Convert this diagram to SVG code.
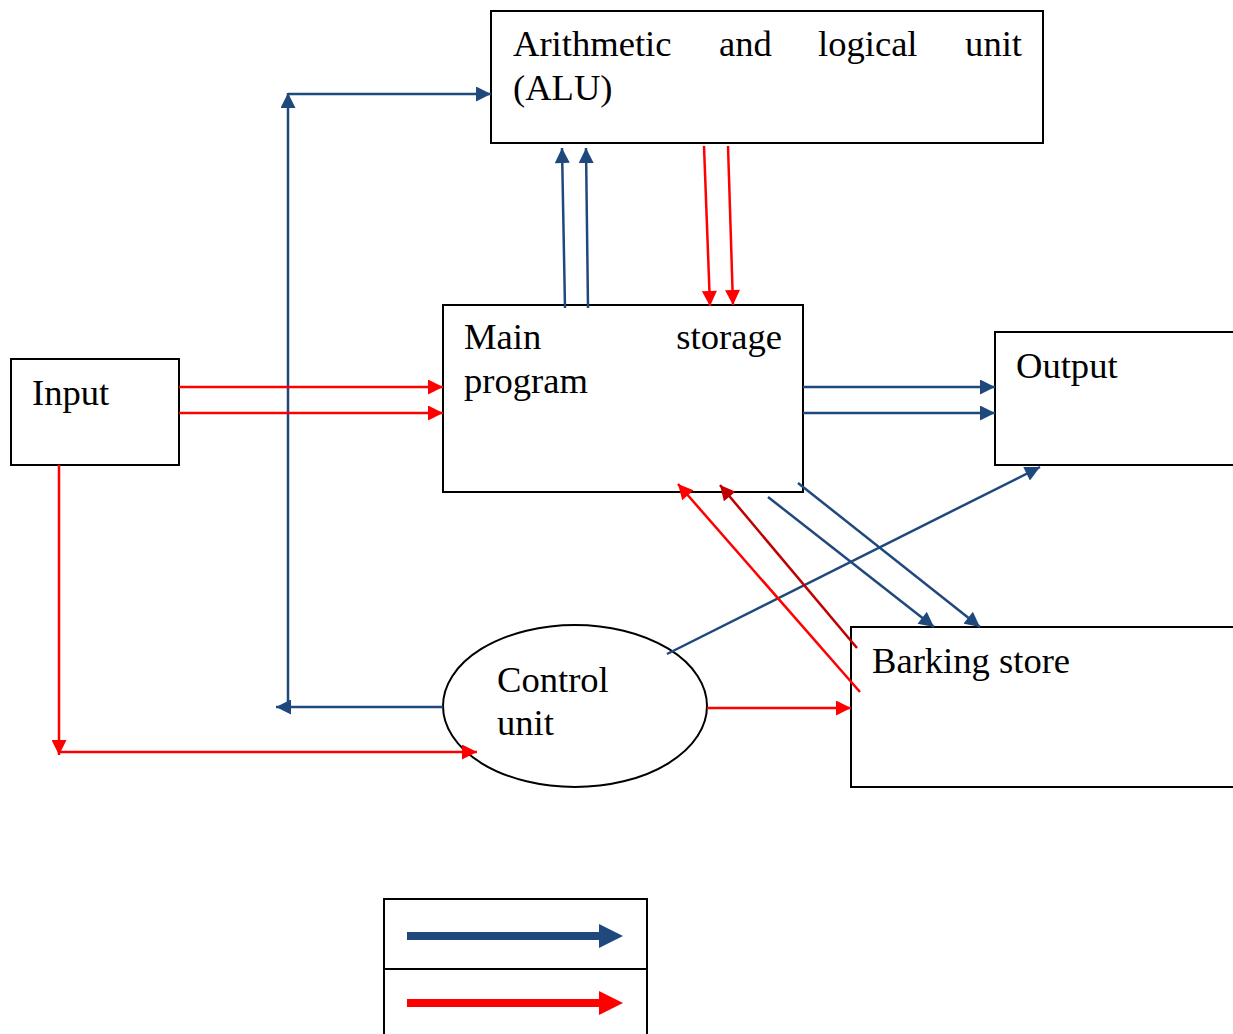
<svg xmlns="http://www.w3.org/2000/svg" width="1233" height="1034" viewBox="0 0 1233 1034">
<style>
.box{fill:#fff;stroke:#000;stroke-width:2}
.t{font-family:"Liberation Serif","Times New Roman",serif;font-size:36.6px;fill:#000}
.b{stroke:#1F497D;stroke-width:2.5;fill:none;marker-end:url(#ab)}
.r{stroke:#FF0000;stroke-width:2.5;fill:none;marker-end:url(#ar)}
.dr{stroke:#C00000;stroke-width:2.5;fill:none;marker-end:url(#adr)}
</style>
<defs>
<marker id="ab" viewBox="0 0 10 10" refX="10" refY="5" markerWidth="16" markerHeight="15" markerUnits="userSpaceOnUse" orient="auto"><path d="M0,0 L10,5 L0,10 z" fill="#1F497D"/></marker>
<marker id="ar" viewBox="0 0 10 10" refX="10" refY="5" markerWidth="16" markerHeight="15" markerUnits="userSpaceOnUse" orient="auto"><path d="M0,0 L10,5 L0,10 z" fill="#FF0000"/></marker>
<marker id="adr" viewBox="0 0 10 10" refX="10" refY="5" markerWidth="16" markerHeight="15" markerUnits="userSpaceOnUse" orient="auto"><path d="M0,0 L10,5 L0,10 z" fill="#C00000"/></marker>
</defs>
<rect width="1233" height="1034" fill="#fff"/>
<g id="alu">
<rect class="box" x="491" y="11" width="552" height="132"/>
<text class="t" x="513" y="56">Arithmetic</text>
<text class="t" x="719" y="56">and</text>
<text class="t" x="818" y="56">logical</text>
<text class="t" x="1022" y="56" text-anchor="end">unit</text>
<text class="t" x="513" y="100">(ALU)</text>
</g>
<g id="main">
<rect class="box" x="443" y="305" width="360" height="187"/>
<text class="t" x="464" y="349">Main</text>
<text class="t" x="782" y="349" text-anchor="end">storage</text>
<text class="t" x="464" y="393">program</text>
</g>
<g id="input">
<rect class="box" x="11" y="359" width="168" height="106"/>
<text class="t" x="32" y="405">Input</text>
</g>
<g id="output">
<rect class="box" x="995" y="332" width="250" height="133"/>
<text class="t" x="1016" y="378">Output</text>
</g>
<g id="control">
<ellipse class="box" cx="575" cy="706" rx="132" ry="81"/>
<text class="t" x="497" y="692">Control</text>
<text class="t" x="497" y="735">unit</text>
</g>
<g id="backing">
<rect class="box" x="851" y="627" width="394" height="160"/>
<text class="t" x="872" y="673">Barking store</text>
</g>
<g id="connectors">
<line class="b" x1="443" y1="707" x2="276" y2="707"/>
<line class="b" x1="288" y1="707" x2="288" y2="93"/>
<line class="b" x1="288" y1="94" x2="491" y2="94"/>
<line class="b" x1="565" y1="308" x2="562" y2="148"/>
<line class="b" x1="588" y1="308" x2="586" y2="148"/>
<line class="r" x1="704" y1="146" x2="710" y2="306"/>
<line class="r" x1="728" y1="146" x2="733" y2="305"/>
<line class="r" x1="179" y1="387" x2="443" y2="387"/>
<line class="r" x1="179" y1="413" x2="443" y2="413"/>
<line class="b" x1="803" y1="387" x2="995" y2="387"/>
<line class="b" x1="803" y1="413" x2="995" y2="413"/>
<line class="r" x1="59" y1="465" x2="59" y2="755"/>
<line class="r" x1="59" y1="752" x2="477" y2="752"/>
<line class="r" x1="707" y1="708" x2="851" y2="708"/>
<line class="b" x1="667" y1="654" x2="1040" y2="467"/>
<line class="r" x1="860" y1="692" x2="678" y2="484"/>
<line class="dr" x1="857" y1="648" x2="720" y2="485"/>
<line class="b" x1="768" y1="497" x2="934" y2="627"/>
<line class="b" x1="798" y1="483" x2="980" y2="627"/>
</g>
<g id="legend">
<rect class="box" x="384" y="899" width="263" height="70"/>
<rect class="box" x="384" y="969" width="263" height="80"/>
<line x1="407" y1="936" x2="602" y2="936" stroke="#1F497D" stroke-width="8"/>
<polygon points="599,924 623,936 599,948" fill="#1F497D"/>
<line x1="407" y1="1003" x2="602" y2="1003" stroke="#FF0000" stroke-width="8"/>
<polygon points="599,991 623,1003 599,1015" fill="#FF0000"/>
</g>
</svg>
